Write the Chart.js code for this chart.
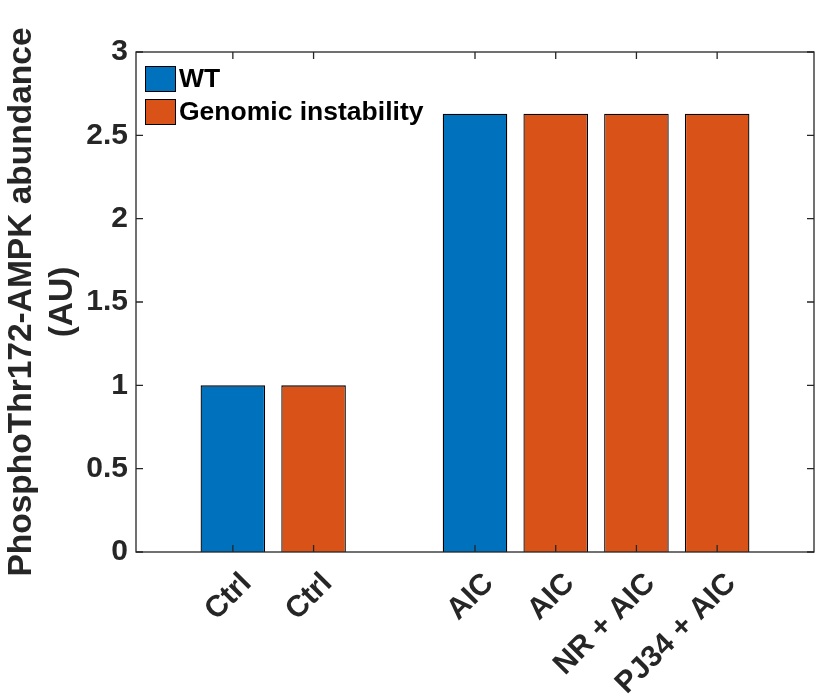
<!DOCTYPE html>
<html>
<head>
<meta charset="utf-8">
<script src="https://cdn.jsdelivr.net/npm/chart.js@4"></script>
<style>
  html, body { margin: 0; padding: 0; background: #fff; }
  canvas { display: block; }
</style>
</head>
<body>
<canvas id="chart" width="824" height="697"></canvas>
<script>
// Data
const categories = ['Ctrl', 'Ctrl', 'AIC', 'AIC', 'NR + AIC', 'PJ34 + AIC'];
const xPositions = [1, 2, 4, 5, 6, 7];
const wtValues = [1.0, null, 2.63, null, null, null];
const giValues = [null, 1.0, null, 2.63, 2.63, 2.63];
const seriesNames = ['WT', 'Genomic instability'];
const yTicks = [0, 0.5, 1, 1.5, 2, 2.5, 3];

// Styles
const wtColor = '#0072BD';
const giColor = '#D95319';
const axisColor = '#262626';
const fontFamily = '"Liberation Sans", Arial, Helvetica, sans-serif';

function toPoints(values) {
  const pts = [];
  values.forEach((v, i) => {
    if (v !== null) pts.push({ x: xPositions[i], y: v });
  });
  return pts;
}

// box round the plot, inside ticks, and the legend in the top-left corner
const axesBox = {
  id: 'axesBox',
  afterDatasetsDraw(chart) {
    const { ctx, chartArea: a, scales: { x, y } } = chart;
    const tickLen = 7;
    ctx.save();
    ctx.strokeStyle = axisColor;
    ctx.lineWidth = 1.3;
    ctx.strokeRect(a.left, a.top, a.right - a.left, a.bottom - a.top);
    ctx.beginPath();
    x.ticks.forEach(t => {
      const px = x.getPixelForValue(t.value);
      ctx.moveTo(px, a.bottom); ctx.lineTo(px, a.bottom - tickLen);
      ctx.moveTo(px, a.top); ctx.lineTo(px, a.top + tickLen);
    });
    y.ticks.forEach(t => {
      const py = y.getPixelForValue(t.value);
      ctx.moveTo(a.left, py); ctx.lineTo(a.left + tickLen, py);
      ctx.moveTo(a.right, py); ctx.lineTo(a.right - tickLen, py);
    });
    ctx.stroke();

    // legend
    ctx.font = 'bold 26.5px ' + fontFamily;
    ctx.textBaseline = 'middle';
    ctx.textAlign = 'left';
    chart.data.datasets.forEach((ds, i) => {
      const sx = a.left + 9;
      const sy = a.top + 14 + i * 33;
      ctx.fillStyle = ds.backgroundColor;
      ctx.fillRect(sx, sy, 31, 26);
      ctx.lineWidth = 1;
      ctx.strokeStyle = '#000';
      ctx.strokeRect(sx + 0.5, sy + 0.5, 30, 25);
      ctx.fillStyle = '#000';
      ctx.fillText(ds.label, sx + 34, sy + 14);
    });
    ctx.restore();
  }
};

const ctx = document.getElementById('chart').getContext('2d');
new Chart(ctx, {
  type: 'bar',
  data: {
    datasets: [
      {
        label: seriesNames[0], data: toPoints(wtValues),
        backgroundColor: wtColor, borderColor: '#000', borderWidth: 1.3,
        grouped: false, barPercentage: 0.8, categoryPercentage: 1
      },
      {
        label: seriesNames[1], data: toPoints(giValues),
        backgroundColor: giColor, borderColor: '#000', borderWidth: 1.3,
        grouped: false, barPercentage: 0.8, categoryPercentage: 1
      }
    ]
  },
  options: {
    responsive: false,
    animation: false,
    devicePixelRatio: 1,
    layout: { padding: { top: 52, right: 10, left: 0, bottom: 0 } },
    plugins: {
      legend: { display: false },
      tooltip: { enabled: false }
    },
    scales: {
      x: {
        type: 'linear',
        offset: false,
        min: -0.2,
        max: 8.2,
        afterBuildTicks: (scale) => { scale.ticks = xPositions.map(v => ({ value: v })); },
        afterFit: (scale) => { scale.height = 145; },
        grid: { display: false, drawTicks: false },
        border: { display: false },
        ticks: {
          autoSkip: false,
          minRotation: 45,
          maxRotation: 45,
          padding: 14,
          labelOffset: 14,
          color: axisColor,
          font: { family: fontFamily, size: 30, weight: 'bold' },
          callback: (value, index) => categories[index]
        }
      },
      y: {
        min: 0,
        max: 3,
        afterBuildTicks: (scale) => { scale.ticks = yTicks.map(v => ({ value: v })); },
        afterFit: (scale) => { scale.width = 136; },
        grid: { display: false, drawTicks: false },
        border: { display: false },
        ticks: {
          padding: 8,
          color: axisColor,
          font: { family: fontFamily, size: 30, weight: 'bold' },
          callback: (value) => String(value)
        },
        title: {
          display: true,
          text: ['PhosphoThr172-AMPK abundance', '(AU)'],
          color: axisColor,
          padding: { top: 1, bottom: 0 },
          font: { family: fontFamily, size: 33.5, weight: 'bold', lineHeight: 1.22 }
        }
      }
    }
  },
  plugins: [axesBox]
});
</script>
</body>
</html>
